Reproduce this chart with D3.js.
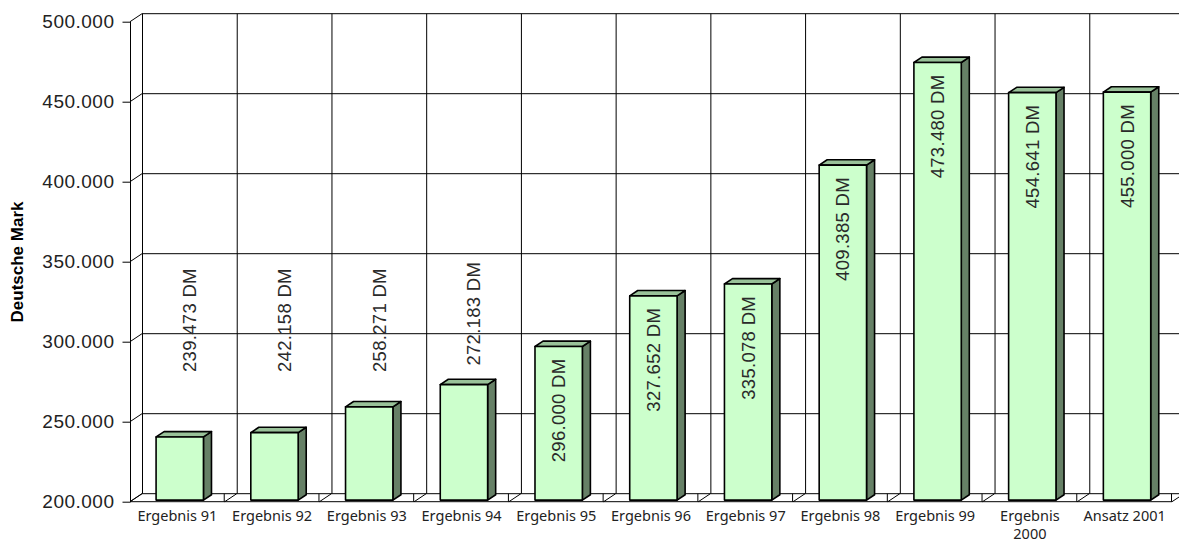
<!DOCTYPE html>
<html>
<head>
<meta charset="utf-8">
<script src="https://cdn.jsdelivr.net/npm/d3@7"></script>
<style>
  html, body { margin: 0; padding: 0; background: #fff; }
  svg { display: block; }
</style>
</head>
<body>
<div id="chart"></div>
<script>
// chart data
const categories = ['Ergebnis 91', 'Ergebnis 92', 'Ergebnis 93', 'Ergebnis 94', 'Ergebnis 95',
    'Ergebnis 96', 'Ergebnis 97', 'Ergebnis 98', 'Ergebnis 99', 'Ergebnis 2000', 'Ansatz 2001'];
const categoryLines = [['Ergebnis 91'], ['Ergebnis 92'], ['Ergebnis 93'], ['Ergebnis 94'], ['Ergebnis 95'],
    ['Ergebnis 96'], ['Ergebnis 97'], ['Ergebnis 98'], ['Ergebnis 99'], ['Ergebnis', '2000'], ['Ansatz 2001']];
const values = [239473, 242158, 258271, 272183, 296000, 327652, 335078, 409385, 473480, 454641, 455000];
const yTicks = [200000, 250000, 300000, 350000, 400000, 450000, 500000];
const yTitle = 'Deutsche Mark';

const width = 1179, height = 543;
const plot = { left: 130, right: 1172, top: 21.7, bottom: 501.7 };
const depth = { dx: 12, dy: -8 };
const barDepth = { from: 0.2, to: 0.87 };

const de = d3.formatLocale({ decimal: ',', thousands: '.', grouping: [3], currency: ['', ' DM'] });
const fmt = de.format(',.0f');

const svg = d3.select('#chart').append('svg')
    .attr('width', width)
    .attr('height', height);

const x = d3.scaleBand()
    .domain(categories)
    .range([plot.left, plot.right])
    .paddingInner(0.5)
    .paddingOuter(0.25);

const y = d3.scaleLinear()
    .domain([200000, 500000])
    .range([plot.bottom, plot.top]);

const step = x.step();
const bounds = d3.range(categories.length + 1).map(i => plot.left + i * step);

const grid = svg.append('g')
    .attr('stroke', '#000')
    .attr('stroke-width', 1)
    .attr('fill', 'none');

// back wall horizontals
grid.selectAll('.hgrid')
    .data(yTicks)
    .enter().append('line')
    .attr('x1', plot.left + depth.dx)
    .attr('x2', plot.right + depth.dx)
    .attr('y1', d => y(d) + depth.dy)
    .attr('y2', d => y(d) + depth.dy);

// side wall diagonals
grid.selectAll('.side')
    .data(yTicks)
    .enter().append('line')
    .attr('x1', plot.left)
    .attr('x2', plot.left + depth.dx)
    .attr('y1', d => y(d))
    .attr('y2', d => y(d) + depth.dy);

// back wall verticals
grid.selectAll('.vgrid')
    .data(bounds)
    .enter().append('line')
    .attr('x1', d => d + depth.dx + 0.5)
    .attr('x2', d => d + depth.dx + 0.5)
    .attr('y1', y(500000) + depth.dy)
    .attr('y2', y(200000) + depth.dy);

// floor
grid.append('line')
    .attr('x1', plot.left).attr('x2', plot.right)
    .attr('y1', y(200000)).attr('y2', y(200000));
grid.selectAll('.floor')
    .data(bounds)
    .enter().append('line')
    .attr('x1', d => d)
    .attr('x2', d => d + depth.dx)
    .attr('y1', y(200000))
    .attr('y2', y(200000) + depth.dy);
grid.selectAll('.ftick')
    .data(bounds.slice(1))
    .enter().append('line')
    .attr('x1', d => d - 0.5)
    .attr('x2', d => d - 0.5)
    .attr('y1', y(200000))
    .attr('y2', y(200000) + depth.dy);

// left axis line
grid.append('line')
    .attr('x1', plot.left + 0.5).attr('x2', plot.left + 0.5)
    .attr('y1', y(500000)).attr('y2', y(200000));

// bars
const bars = svg.append('g')
    .attr('stroke', '#000')
    .attr('stroke-width', 1.6)
    .attr('stroke-linejoin', 'round');

const fdx = depth.dx * barDepth.from, fdy = depth.dy * barDepth.from;
const bdx = depth.dx * (barDepth.to - barDepth.from), bdy = depth.dy * (barDepth.to - barDepth.from);

categories.forEach((c, i) => {
    const x0 = x(c) + fdx;
    const x1 = x0 + x.bandwidth();
    const yt = y(values[i]) + fdy;
    const yb = y(200000) + fdy;
    bars.append('path')
        .attr('fill', '#668066')
        .attr('d', `M${x1},${yb}L${x1 + bdx},${yb + bdy}L${x1 + bdx},${yt + bdy}L${x1},${yt}Z`);
    bars.append('path')
        .attr('fill', '#99c299')
        .attr('d', `M${x0},${yt}L${x0 + bdx},${yt + bdy}L${x1 + bdx},${yt + bdy}L${x1},${yt}Z`);
    bars.append('rect')
        .attr('x', x0)
        .attr('y', yt)
        .attr('width', x.bandwidth())
        .attr('height', yb - yt)
        .attr('fill', '#ccffcc');
});

// value labels
const labelFont = 18.5;
const labels = svg.append('g')
    .attr('font-family', '"Liberation Sans", Arial, sans-serif')
    .attr('font-size', labelFont)
    .attr('letter-spacing', 0.3)
    .attr('fill', '#2a2a2a');

categories.forEach((c, i) => {
    const cx = x(c) + fdx + x.bandwidth() / 2;
    const yt = y(values[i]) + fdy;
    const yb = y(200000) + fdy;
    const t = labels.append('text')
        .attr('text-anchor', 'end')
        .attr('dy', '0.35em')
        .text(fmt(values[i]) + ' DM');
    const len = t.node().getComputedTextLength();
    if (yb - yt >= len + 26) {
        t.attr('transform', `translate(${cx},${yt + 12}) rotate(-90)`);
    } else {
        const bottom = Math.min(yt - 19, 372);
        t.attr('text-anchor', 'start')
            .attr('transform', `translate(${cx + 10},${bottom}) rotate(-90)`);
    }
});

// y axis
const yAxis = svg.append('g')
    .attr('transform', `translate(${plot.left + 0.5},0)`)
    .call(d3.axisLeft(y).tickValues(yTicks).tickFormat(fmt).tickSize(8).tickPadding(8));
yAxis.select('.domain').remove();
yAxis.selectAll('line').attr('stroke', '#000');
yAxis.selectAll('text')
    .attr('font-family', '"Liberation Sans", Arial, sans-serif')
    .attr('font-size', 19)
    .attr('letter-spacing', 0.5)
    .attr('fill', '#222');

svg.append('text')
    .attr('transform', `translate(23,262) rotate(-90)`)
    .attr('text-anchor', 'middle')
    .attr('font-family', '"Liberation Sans", Arial, sans-serif')
    .attr('font-weight', 'bold')
    .attr('font-size', 17)
    .attr('fill', '#000')
    .text(yTitle);

// category labels
const xl = svg.append('g')
    .attr('font-family', '"Noto Sans", "Open Sans", sans-serif')
    .attr('font-size', 14.5)
    .attr('fill', '#222')
    .attr('text-anchor', 'middle');

categories.forEach((c, i) => {
    const t = xl.append('text')
        .attr('x', x(c) + x.bandwidth() / 2)
        .attr('y', 521);
    categoryLines[i].forEach((line, j) => {
        t.append('tspan')
            .attr('x', x(c) + x.bandwidth() / 2)
            .attr('dy', j === 0 ? 0 : 18)
            .text(line);
    });
});
</script>
</body>
</html>
